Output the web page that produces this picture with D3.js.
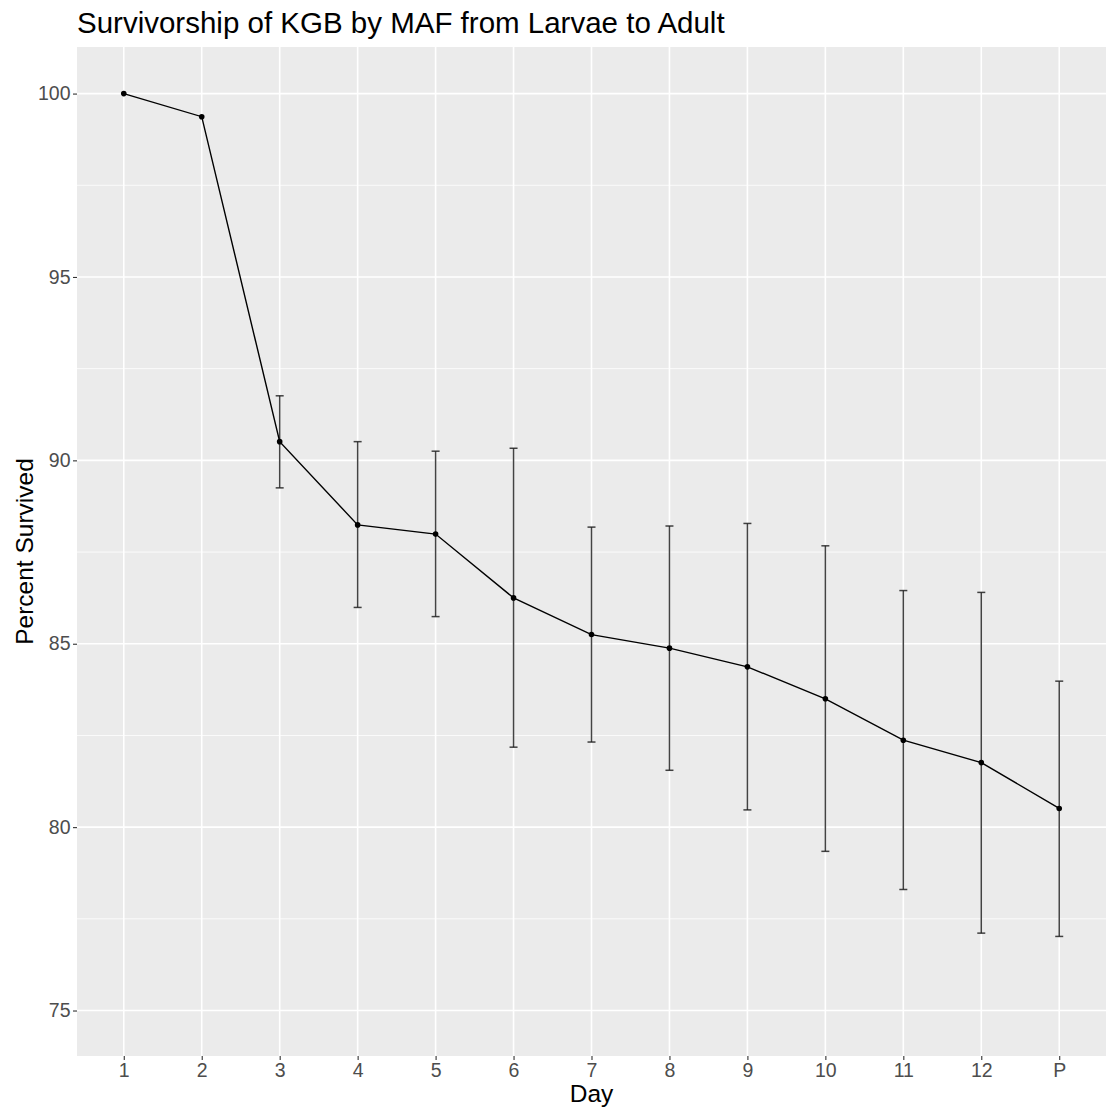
<!DOCTYPE html>
<html>
<head>
<meta charset="utf-8">
<script src="https://cdn.jsdelivr.net/npm/d3@7"></script>
<style>
  html, body { margin: 0; padding: 0; background: #ffffff; }
  svg { display: block; font-family: "Liberation Sans", Arial, Helvetica, sans-serif; }
</style>
</head>
<body>
<svg id="chart" width="1106" height="1113"></svg>
<script>
// Day categories along the x axis
const days = ["1", "2", "3", "4", "5", "6", "7", "8", "9", "10", "11", "12", "P"];
// Mean percent survived per day
const survived = [100, 99.37, 90.51, 88.24, 87.99, 86.25, 85.25, 84.88, 84.37, 83.50, 82.37, 81.76, 80.51];
// Lower / upper error bar limits (null where no bar is drawn)
const lower = [null, null, 89.25, 85.99, 85.74, 82.18, 82.32, 81.55, 80.47, 79.34, 78.30, 77.11, 77.02];
const upper = [null, null, 91.76, 90.51, 90.25, 90.33, 88.18, 88.21, 88.28, 87.67, 86.45, 86.40, 83.98];
// Y axis limits and tick values
const yLimits = [73.76, 101.27];
const yTicks = [75, 80, 85, 90, 95, 100];
const yMinorTicks = [77.5, 82.5, 87.5, 92.5, 97.5];

const svg = d3.select("#chart");
const panel = { left: 77, right: 1106, top: 47, bottom: 1056 };
const font = "Liberation Sans, Arial, sans-serif";

const y = d3.scaleLinear().domain(yLimits).range([panel.bottom, panel.top]);

// Discrete x with 0.6 category padding on each side
const x = d3.scalePoint().domain(days).range([panel.left, panel.right]).padding(0.6);

// Panel background
svg.append("rect")
  .attr("x", panel.left).attr("y", panel.top)
  .attr("width", panel.right - panel.left).attr("height", panel.bottom - panel.top)
  .attr("fill", "#ebebeb");

// Minor horizontal grid
svg.append("g").selectAll("line").data(yMinorTicks).join("line")
  .attr("x1", panel.left).attr("x2", panel.right)
  .attr("y1", d => y(d)).attr("y2", d => y(d))
  .attr("stroke", "#ffffff").attr("stroke-width", 0.8);

// Major horizontal grid
svg.append("g").selectAll("line").data(yTicks).join("line")
  .attr("x1", panel.left).attr("x2", panel.right)
  .attr("y1", d => y(d)).attr("y2", d => y(d))
  .attr("stroke", "#ffffff").attr("stroke-width", 1.6);

// Vertical grid at each day
svg.append("g").selectAll("line").data(days).join("line")
  .attr("x1", d => x(d)).attr("x2", d => x(d))
  .attr("y1", panel.top).attr("y2", panel.bottom)
  .attr("stroke", "#ffffff").attr("stroke-width", 1.6);

// Y axis
const yAxis = d3.axisLeft(y).tickValues(yTicks).tickSize(4).tickPadding(2.5);
const gy = svg.append("g").attr("transform", `translate(${panel.left},0)`).call(yAxis);
gy.select(".domain").remove();
gy.selectAll(".tick line").attr("stroke", "#333333").attr("stroke-width", 1.1);
gy.selectAll(".tick text").attr("fill", "#4d4d4d").attr("font-size", 19.5)
  .attr("font-family", font);

// X axis
const xAxis = d3.axisBottom(x).tickSize(4).tickPadding(3);
const gx = svg.append("g").attr("transform", `translate(0,${panel.bottom})`).call(xAxis);
gx.select(".domain").remove();
gx.selectAll(".tick line").attr("stroke", "#333333").attr("stroke-width", 1.1);
gx.selectAll(".tick text").attr("fill", "#4d4d4d").attr("font-size", 19.5)
  .attr("font-family", font);

// Error bars
const rows = days.map((d, i) => ({ day: d, v: survived[i], lo: lower[i], hi: upper[i] }));
const bars = rows.filter(r => r.lo != null);
const capHalf = 4;
const eb = svg.append("g").attr("stroke", "#222222").attr("stroke-width", 1.5).attr("stroke-opacity", 0.85);
eb.selectAll("line.v").data(bars).join("line").attr("class", "v")
  .attr("x1", r => x(r.day)).attr("x2", r => x(r.day))
  .attr("y1", r => y(r.hi)).attr("y2", r => y(r.lo));
eb.selectAll("line.t").data(bars).join("line").attr("class", "t")
  .attr("x1", r => x(r.day) - capHalf).attr("x2", r => x(r.day) + capHalf)
  .attr("y1", r => y(r.hi)).attr("y2", r => y(r.hi));
eb.selectAll("line.b").data(bars).join("line").attr("class", "b")
  .attr("x1", r => x(r.day) - capHalf).attr("x2", r => x(r.day) + capHalf)
  .attr("y1", r => y(r.lo)).attr("y2", r => y(r.lo));

// Survival line
const line = d3.line().x(r => x(r.day)).y(r => y(r.v));
svg.append("path").datum(rows).attr("d", line)
  .attr("fill", "none").attr("stroke", "#000000").attr("stroke-width", 1.4);

// Points
svg.append("g").selectAll("circle").data(rows).join("circle")
  .attr("cx", r => x(r.day)).attr("cy", r => y(r.v)).attr("r", 2.8).attr("fill", "#000000");

// Titles
svg.append("text").attr("x", 77).attr("y", 33)
  .attr("font-size", 29.5).attr("fill", "#000000").attr("font-family", font)
  .text("Survivorship of KGB by MAF from Larvae to Adult");

svg.append("text").attr("x", (panel.left + panel.right) / 2).attr("y", 1102)
  .attr("text-anchor", "middle").attr("font-size", 24.5).attr("fill", "#000000")
  .attr("font-family", font)
  .text("Day");

svg.append("text")
  .attr("transform", `translate(33,${(panel.top + panel.bottom) / 2}) rotate(-90)`)
  .attr("text-anchor", "middle").attr("font-size", 24.5).attr("fill", "#000000")
  .attr("font-family", font)
  .text("Percent Survived");
</script>
</body>
</html>
